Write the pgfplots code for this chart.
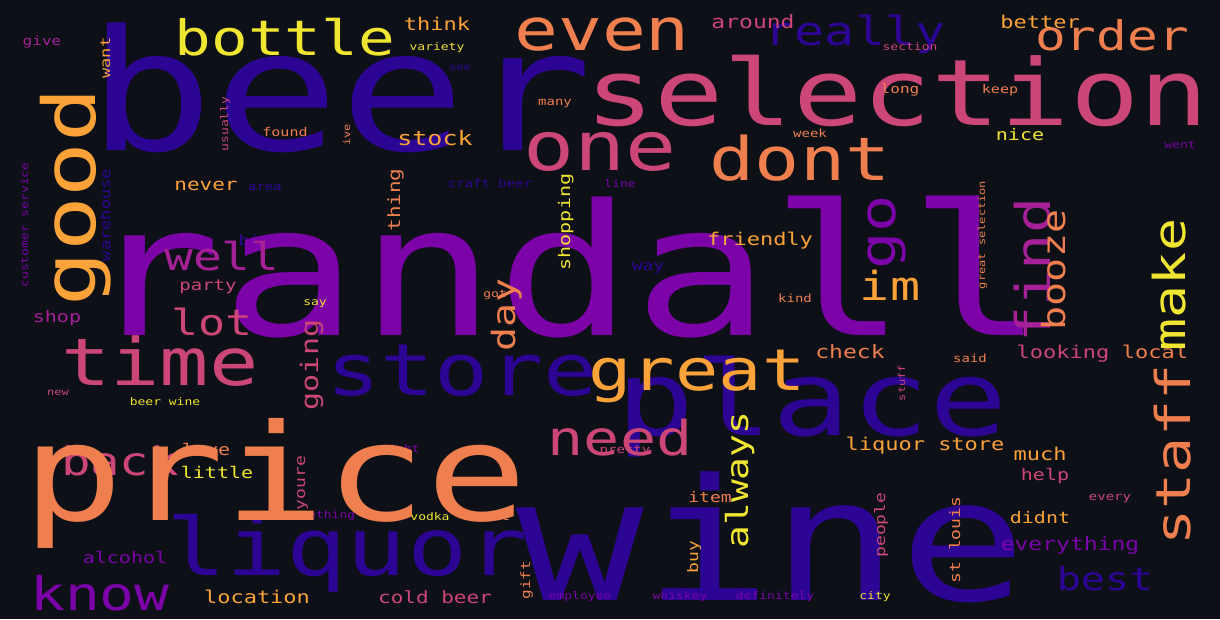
\documentclass[border=0pt]{standalone}
\usepackage{pgfplots}
\usepackage{pgfplotstable}
\pgfplotsset{compat=1.18}
\usepackage{fontspec}
\newfontfamily\wc{DejaVu Sans Mono}
\definecolor{bg}{HTML}{0D1017}
\definecolor{cblue}{HTML}{2D0594}
\definecolor{cpurp}{HTML}{7B03A8}
\definecolor{cmag}{HTML}{A62098}
\definecolor{cpink}{HTML}{CC4778}
\definecolor{corange}{HTML}{EF7F4F}
\definecolor{cyor}{HTML}{FBA238}
\definecolor{cyel}{HTML}{F0E530}
\pgfplotstableread[col sep=comma]{
x,y,s,r,w
340,150,210,0,beer
772,600,212,0,wine
347,575,100,0,liquor
462,395,90,0,store
812,435,130,0,place
855,45,50,0,really
1105,590,40,0,best
255,245,18,0,big
648,270,18,0,way
265,190,14,0,area
490,187,14,0,craft beer
460,70,12,0,see
110,215,17,90,warehouse
}\tblue
\pgfplotstableread[col sep=comma]{
x,y,s,r,w
565,335,228,0,randall
895,232,62,90,go
100,610,58,0,know
1070,550,23,0,everything
125,563,20,0,alcohol
1180,148,13,0,went
620,187,13,0,line
28,225,13,90,customer service
400,452,13,0,right
320,518,13,0,something
580,599,13,0,employee
680,599,13,0,whiskey
775,599,13,0,definitely
}\tpurp
\pgfplotstableread[col sep=comma]{
x,y,s,r,w
1050,270,60,90,find
222,270,48,0,well
57,322,20,0,shop
42,45,16,0,give
}\tmag
\pgfplotstableread[col sep=comma]{
x,y,s,r,w
897,125,115,0,selection
160,385,82,0,time
600,170,85,0,one
620,455,60,0,need
120,475,49,0,back
212,335,45,0,lot
318,365,30,90,going
208,290,19,0,party
753,28,23,0,around
910,50,13,0,section
228,124,13,90,usually
58,395,12,0,new
625,453,14,0,pretty
1045,480,20,0,help
305,483,18,90,youre
885,525,18,90,people
1110,500,14,0,every
1063,358,22,0,looking
435,603,21,0,cold beer
905,383,12,90,stuff
}\tpink
\pgfplotstableread[col sep=comma]{
x,y,s,r,w
275,520,168,0,price
602,50,73,0,even
1112,50,51,0,order
800,180,75,0,dont
1190,455,60,90,staff
1065,270,40,90,booze
515,315,40,90,day
555,105,14,0,many
900,93,16,0,long
1000,93,15,0,keep
285,136,15,0,found
350,135,12,90,ive
810,137,14,0,week
400,200,21,90,thing
985,235,12,90,great selection
495,297,13,0,got
795,302,14,0,kind
850,358,23,0,check
970,362,14,0,said
206,455,20,0,love
710,502,18,0,item
960,540,18,90,st louis
490,520,17,0,cant
530,580,16,90,gift
1155,358,22,0,local
}\torange
\pgfplotstableread[col sep=comma]{
x,y,s,r,w
95,197,91,90,good
697,390,72,0,great
890,300,50,0,im
435,145,25,0,stock
437,30,22,0,think
110,58,17,90,want
1040,28,22,0,better
206,190,21,0,never
760,245,22,0,friendly
925,450,22,0,liquor store
1040,460,22,0,much
1040,523,20,0,didnt
698,557,18,90,buy
257,603,22,0,location
}\tyor
\pgfplotstableread[col sep=comma]{
x,y,s,r,w
285,55,61,0,bottle
1185,285,55,90,make
748,480,38,90,always
437,50,13,0,variety
570,222,20,90,shopping
1020,140,20,0,nice
315,305,13,0,say
165,405,13,0,beer wine
217,478,20,0,little
430,520,13,0,vodka
875,599,13,0,city
}\tyel
\pgfplotsset{wcplot/.style={only marks, mark=none,
  point meta=explicit symbolic,
  visualization depends on={0.8*\thisrow{s}\as\fs},
  visualization depends on={\thisrow{r}\as\rot},
  nodes near coords,
  nodes near coords style={anchor=base, inner sep=0pt, rotate=\rot, xscale=1.25,
    font=\wc\fontsize{\fs}{\fs}\selectfont, text=#1}}}
\begin{document}
\begin{tikzpicture}
\useasboundingbox (0,0) rectangle (1220pt,619pt);
\clip (0,0) rectangle (1220pt,619pt);
\fill[bg] (0,0) rectangle (1220pt,619pt);
\begin{axis}[at={(0,0)}, anchor=south west, scale only axis,
  width=1220pt, height=619pt, xmin=0, xmax=1220, ymin=0, ymax=619,
  y dir=reverse, hide axis, clip=true]
\addplot[wcplot=cblue] table[x=x,y=y,meta=w] {\tblue};
\addplot[wcplot=cpurp] table[x=x,y=y,meta=w] {\tpurp};
\addplot[wcplot=cmag] table[x=x,y=y,meta=w] {\tmag};
\addplot[wcplot=cpink] table[x=x,y=y,meta=w] {\tpink};
\addplot[wcplot=corange] table[x=x,y=y,meta=w] {\torange};
\addplot[wcplot=cyor] table[x=x,y=y,meta=w] {\tyor};
\addplot[wcplot=cyel] table[x=x,y=y,meta=w] {\tyel};
\end{axis}
\end{tikzpicture}
\end{document}
